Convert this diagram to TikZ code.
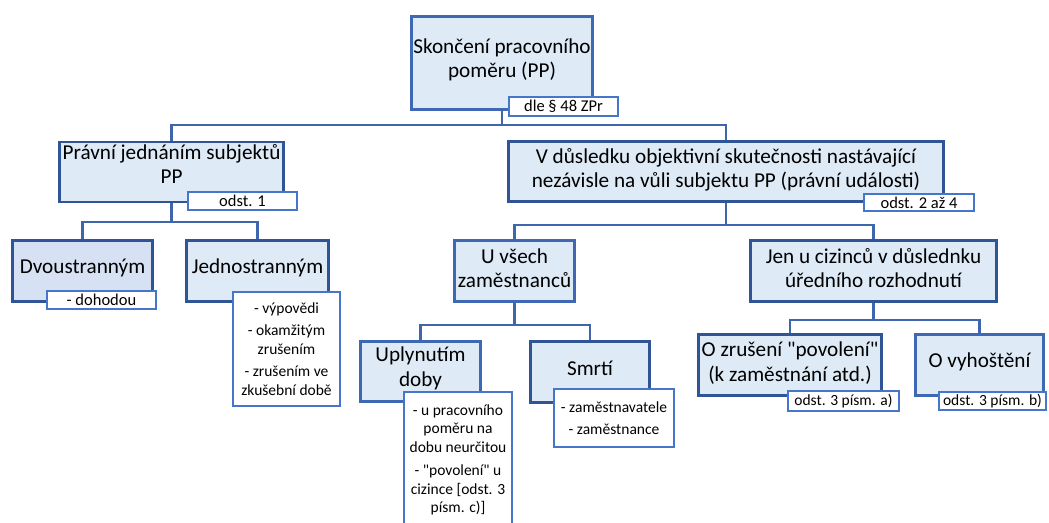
\documentclass[tikz,border=0pt]{standalone}
\usepackage{fontspec}
\setmainfont{Carlito}[Ligatures=TeXOff]
\usetikzlibrary{backgrounds}
\definecolor{boxfill}{HTML}{DEEAF6}
\definecolor{boxfilld}{HTML}{D6E1F3}
\definecolor{boxdraw}{HTML}{3E68B3}
\definecolor{boxdark}{HTML}{2F5597}
\definecolor{tagdraw}{HTML}{4676CA}
\definecolor{conncol}{HTML}{3D66AE}
\begin{document}
\begin{tikzpicture}[x=1pt,y=-1pt,
  box/.style={rectangle, draw=boxdraw, fill=boxfill, line width=2.6pt, inner sep=0pt},
  dbox/.style={box, draw=boxdark},
  tag/.style={rectangle, draw=tagdraw, fill=white, line width=2.4pt, inner sep=0pt,
              font=\fontsize{16.5}{19}\selectfont, align=center},
  ltag/.style={tag, font=\fontsize{15.5}{18.5}\selectfont},
  big/.style={font=\fontsize{21.2}{24.5}\selectfont, align=center, inner sep=0pt},
  small/.style={font=\fontsize{15.5}{18.5}\selectfont, align=center, inner sep=0pt},
  conn/.style={draw=conncol, line width=2.8pt}]
\clip (0,0) rectangle (1049,522);
% level 0
\node[box, minimum width=181pt, minimum height=93pt] (top) at (502,63) {};
\node[big] (topt) at (502,60) {Skončení pracovního\\poměru (PP)};
\node[tag, minimum width=109pt, minimum height=19pt] (topl) at (563.5,106.5) {dle § 48 ZPr};
% level 1
\node[dbox, minimum width=224pt, minimum height=60pt] (A) at (171.5,172) {};
\node[big] (At) at (171.5,164) {Právní jednáním subjektů\\PP};
\node[tag, minimum width=109pt, minimum height=18pt] (Al) at (242.5,201) {odst. 1};
\node[dbox, minimum width=435pt, minimum height=60pt] (B) at (726,171.5) {};
\node[big] (Bt) at (726,170) {V důsledku objektivní skutečnosti nastávající\\nezávisle na vůli subjektu PP (právní události)};
\node[tag, minimum width=110pt, minimum height=17pt] (Bl) at (919,202.5) {odst. 2 až 4};
% level 2 left
\node[dbox, fill=boxfilld, minimum width=140pt, minimum height=61pt] (A1) at (82.5,271) {};
\node[big] (A1t) at (82.5,268) {Dvoustranným};
\node[tag, minimum width=109pt, minimum height=18pt] (A1l) at (101.5,300) {- dohodou};
\node[dbox, minimum width=142pt, minimum height=61pt] (A2) at (257.5,271) {};
\node[big] (A2t) at (257.5,268) {Jednostranným};
\node[ltag, minimum width=107pt, minimum height=114pt] (A2l) at (286.5,349) {- výpovědi\\[4pt]- okamžitým\\zrušením\\[4pt]- zrušením ve\\zkušební době};
% level 2 right
\node[box, minimum width=120pt, minimum height=61pt] (B1) at (514.5,271) {};
\node[big] (B1t) at (514.5,268) {U všech\\zaměstnanců};
\node[dbox, minimum width=246pt, minimum height=61pt] (B2) at (873.5,271) {};
\node[big] (B2t) at (873.5,268) {Jen u cizinců v důslednku\\úředního rozhodnutí};
% level 3
\node[box, minimum width=120pt, minimum height=60pt] (B1a) at (420.5,371.5) {};
\node[big] (B1at) at (420.5,368.5) {Uplynutím\\doby};
\node[ltag, minimum width=108pt, minimum height=140pt] (B1al) at (458,462) {};
\node[small] (B1alt) at (458,460) {- u pracovního\\poměru na\\dobu neurčitou\\[5pt]- "povolení" u\\cizince [odst. 3\\písm. c)]};
\node[dbox, minimum width=119pt, minimum height=61pt] (B1b) at (590,372) {};
\node[big] (B1bt) at (590,368) {Smrtí};
\node[ltag, minimum width=120pt, minimum height=58pt] (B1bl) at (614,418) {- zaměstnavatele\\[4pt]- zaměstnance};
\node[dbox, minimum width=183pt, minimum height=61pt] (B2a) at (790,365) {};
\node[big] (B2at) at (790,363) {O zrušení "povolení"\\(k zaměstnání atd.)};
\node[ltag, minimum width=111pt, minimum height=20pt] (B2al) at (843.5,401) {odst. 3 písm. a)};
\node[box, minimum width=128pt, minimum height=61pt] (B2b) at (979.5,365) {};
\node[big] (B2bt) at (979.5,362) {O vyhoštění};
\node[ltag, minimum width=107pt, minimum height=18pt] (B2bl) at (992.5,401) {odst. 3 písm. b)};
% junctions
\coordinate (j0) at (502,125);
\coordinate (jA) at (171.5,222);
\coordinate (jB) at (726,225);
\coordinate (jB1) at (514.5,325);
\coordinate (jB2) at (873.5,320);
\begin{scope}[on background layer]
\draw[conn] (top.south) -- (j0);
\draw[conn] (j0) -| (A.north);
\draw[conn] (j0) -| (B.north);
\draw[conn] (A.south) -- (jA);
\draw[conn] (jA) -| (A1.north);
\draw[conn] (jA) -| (A2.north);
\draw[conn] (B.south) -- (jB);
\draw[conn] (jB) -| (B1.north);
\draw[conn] (jB) -| (B2.north);
\draw[conn] (B1.south) -- (jB1);
\draw[conn] (jB1) -| (B1a.north);
\draw[conn] (jB1) -| (B1b.north);
\draw[conn] (B2.south) -- (jB2);
\draw[conn] (jB2) -| (B2a.north);
\draw[conn] (jB2) -| (B2b.north);
\end{scope}
\end{tikzpicture}
\end{document}
